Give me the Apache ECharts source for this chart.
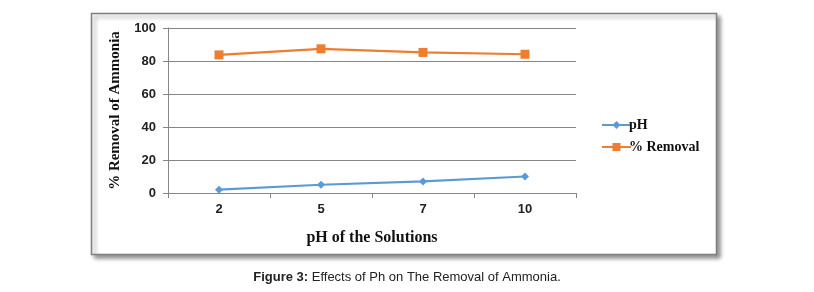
<!DOCTYPE html>
<html>
<head>
<meta charset="utf-8">
<script src="https://cdn.jsdelivr.net/npm/echarts@6/dist/echarts.min.js"></script>
<style>
html,body{margin:0;padding:0;background:#fff;}
#chart{width:814px;height:292px;}
</style>
</head>
<body>
<div id="chart"></div>
<script>
var categories = ['2', '5', '7', '10'];
var phValues = [2, 5, 7, 10];
var removalValues = [83.7, 87.4, 85.2, 84.1];
var yTicks = [0, 20, 40, 60, 80, 100];

var option = {
	animation: false,
	backgroundColor: '#fff',
	graphic: [
		{
			type: 'rect',
			shape: { x: 91.5, y: 13.5, width: 625, height: 241 },
			style: { fill: '#fff', stroke: '#7f7f7f', lineWidth: 1.5, shadowBlur: 4, shadowOffsetX: 3, shadowOffsetY: 3, shadowColor: 'rgba(0,0,0,0.4)' },
			z: -10
		},
		{
			type: 'text',
			left: 'center',
			top: 271,
			style: {
				rich: {
					b: { fontFamily: 'Liberation Sans, Arial', fontWeight: 'bold', fontSize: 13, fill: '#222' },
					n: { fontFamily: 'Liberation Sans, Arial', fontSize: 13, fill: '#222' }
				},
				text: '{b|Figure 3:}{n| Effects of Ph on The Removal of Ammonia.}'
			}
		}
	],
	grid: { left: 168, right: 238, top: 28, bottom: 99 },
	legend: {
		left: 596,
		top: 113,
		orient: 'vertical',
		itemWidth: 29,
		itemHeight: 10,
		itemGap: 8,
		data: ['pH', '% Removal'],
		textStyle: { fontFamily: 'Liberation Serif, Times New Roman', fontWeight: 'bold', fontSize: 14, color: '#111', padding: [0, 0, 0, -7] }
	},
	xAxis: {
		type: 'category',
		data: categories,
		boundaryGap: true,
		name: 'pH of the Solutions',
		nameLocation: 'middle',
		nameGap: 37,
		nameTextStyle: { fontFamily: 'Liberation Serif, Times New Roman', fontWeight: 'bold', fontSize: 16, color: '#111' },
		axisLine: { lineStyle: { color: '#868686', width: 1 } },
		axisTick: { show: true, length: 5, lineStyle: { color: '#868686' } },
		axisLabel: { fontFamily: 'Liberation Sans, Arial', fontWeight: 'bold', fontSize: 13, color: '#222', margin: 10 }
	},
	yAxis: {
		type: 'value',
		min: 0,
		max: 100,
		interval: 20,
		name: '% Removal of Ammonia',
		nameLocation: 'middle',
		nameGap: 45,
		nameTextStyle: { fontFamily: 'Liberation Serif, Times New Roman', fontWeight: 'bold', fontSize: 15, color: '#111' },
		axisLine: { show: true, lineStyle: { color: '#868686', width: 1 } },
		axisTick: { show: true, length: 5, lineStyle: { color: '#868686' } },
		splitLine: { lineStyle: { color: '#868686', width: 1 } },
		axisLabel: {
			fontFamily: 'Liberation Sans, Arial', fontWeight: 'bold', fontSize: 13, color: '#222', margin: 12,
			formatter: function(v){ return yTicks.indexOf(v) >= 0 ? String(v) : ''; }
		}
	},
	series: [
		{
			name: 'pH',
			type: 'line',
			data: phValues,
			symbol: 'diamond',
			symbolSize: 8,
			itemStyle: { color: '#5b9bd5' },
			lineStyle: { color: '#5b9bd5', width: 2.2 }
		},
		{
			name: '% Removal',
			type: 'line',
			data: removalValues,
			symbol: 'rect',
			symbolSize: 9,
			itemStyle: { color: '#ed7d31' },
			lineStyle: { color: '#ed7d31', width: 2.2 }
		}
	]
};

//初始化图表
var myChart = echarts.init(document.getElementById('chart'));
myChart.setOption(option);
</script>
</body>
</html>
